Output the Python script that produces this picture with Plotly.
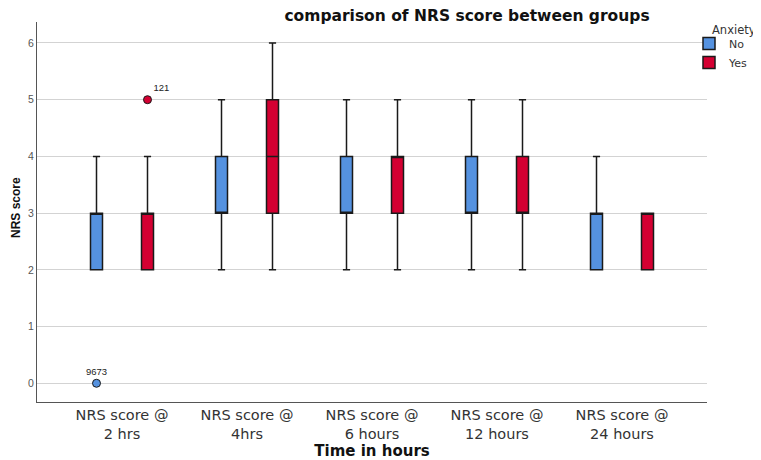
import plotly.graph_objects as go

categories = ["NRS score @<br>2 hrs", "NRS score @<br>4hrs", "NRS score @<br>6 hours",
              "NRS score @<br>12 hours", "NRS score @<br>24 hours"]
groups = ["No", "Yes"]

no_q1 = [2, 3, 3, 3, 2]
no_med = [3, 3, 3, 3, 3]
no_q3 = [3, 4, 4, 4, 3]
no_low = [2, 2, 2, 2, 2]
no_up = [4, 5, 5, 5, 4]

yes_q1 = [2, 3, 3, 3, 2]
yes_med = [3, 4, 4, 3, 3]
yes_q3 = [3, 5, 4, 4, 3]
yes_low = [2, 2, 2, 2, 2]
yes_up = [4, 6, 5, 5, 3]

outlier_group = ["No", "Yes"]
outlier_cat = [0, 0]
outlier_val = [0, 5]
outlier_label = ["9673", "121"]

colors = {"No": "#5592E0", "Yes": "#D40032"}
offset = 0.204
bw = 0.096

# the page body has an 8px margin: figure is sized to the visible area
W, H = 753, 452
PL, PT, PW, PH = 37, 22, 670, 380  # plot area in screen pixels


def px(sx):
    return (sx - PL) / PW


def py(sy):
    return (PT + PH - sy) / PH


fig = go.Figure()
n = len(categories)
for g, q1, med, q3, lo, up, sign in [
    ("No", no_q1, no_med, no_q3, no_low, no_up, -1),
    ("Yes", yes_q1, yes_med, yes_q3, yes_low, yes_up, 1),
]:
    fig.add_trace(go.Box(
        name=g, x=[i + sign * offset for i in range(n)],
        q1=q1, median=med, q3=q3, lowerfence=lo, upperfence=up,
        width=bw, whiskerwidth=0.6, boxpoints=False,
        fillcolor=colors[g], line=dict(color="#1a1a1a", width=1.5),
        showlegend=True,
    ))

for g, c, v, lab in zip(outlier_group, outlier_cat, outlier_val, outlier_label):
    sign = -1 if g == "No" else 1
    fig.add_trace(go.Scatter(
        x=[c + sign * offset], y=[v], mode="markers+text", text=[lab],
        textposition="top center" if g == "No" else "top right",
        textfont=dict(family="Liberation Sans, Arial", size=9.5, color="#222"),
        marker=dict(color=colors[g], size=8, line=dict(color="#1a1a1a", width=1)),
        showlegend=False, hoverinfo="skip", cliponaxis=False,
    ))

fig.add_annotation(text="Anxiety", xref="paper", yref="paper",
                   x=px(710), y=py(30), xanchor="left", yanchor="middle",
                   showarrow=False, font=dict(family="DejaVu Sans", size=11.5, color="#333"))

fig.add_annotation(text="<b>NRS score</b>", xref="paper", yref="paper",
                   x=px(16), y=py(208), xanchor="center", yanchor="middle",
                   textangle=-90, showarrow=False,
                   font=dict(family="Liberation Sans", size=12, color="#111"))

fig.update_layout(
    width=W, height=H,
    margin=dict(l=PL - 8, r=W - (PL - 8) - PW, t=PT - 8, b=H - (PT - 8) - PH, autoexpand=False),
    paper_bgcolor="white", plot_bgcolor="white",
    font=dict(family="Liberation Sans, Arial", color="#222"),
    title=dict(text="<b>comparison of NRS score between groups</b>",
               x=(467 - 8) / W, xanchor="center", xref="container",
               y=1, yanchor="top", yref="container", pad=dict(t=2, b=0),
               font=dict(family="DejaVu Sans", size=15.5, color="#111")),
    legend=dict(x=px(689), xanchor="left", y=py(29), yanchor="top",
                font=dict(family="DejaVu Sans", size=11, color="#333"),
                bgcolor="rgba(0,0,0,0)", tracegroupgap=0, itemwidth=30),
    xaxis=dict(range=[-0.68, 4.68], tickvals=list(range(n)), ticktext=categories,
               showgrid=False, zeroline=False, showline=True, linecolor="#555",
               linewidth=1, ticks="", automargin=False,
               tickfont=dict(family="DejaVu Sans", size=14.5, color="#333"),
               title=dict(text="<b>Time in hours</b>",
                          font=dict(family="DejaVu Sans", size=15, color="#111"))),
    yaxis=dict(range=[-0.33, 6.37], tickvals=[0, 1, 2, 3, 4, 5, 6],
               showgrid=True, gridcolor="#D3D3D3", gridwidth=1, zeroline=False,
               showline=True, linecolor="#555", linewidth=1, ticks="", automargin=False,
               tickfont=dict(size=10.5, color="#555")),
)

fig.write_html("out.html")
